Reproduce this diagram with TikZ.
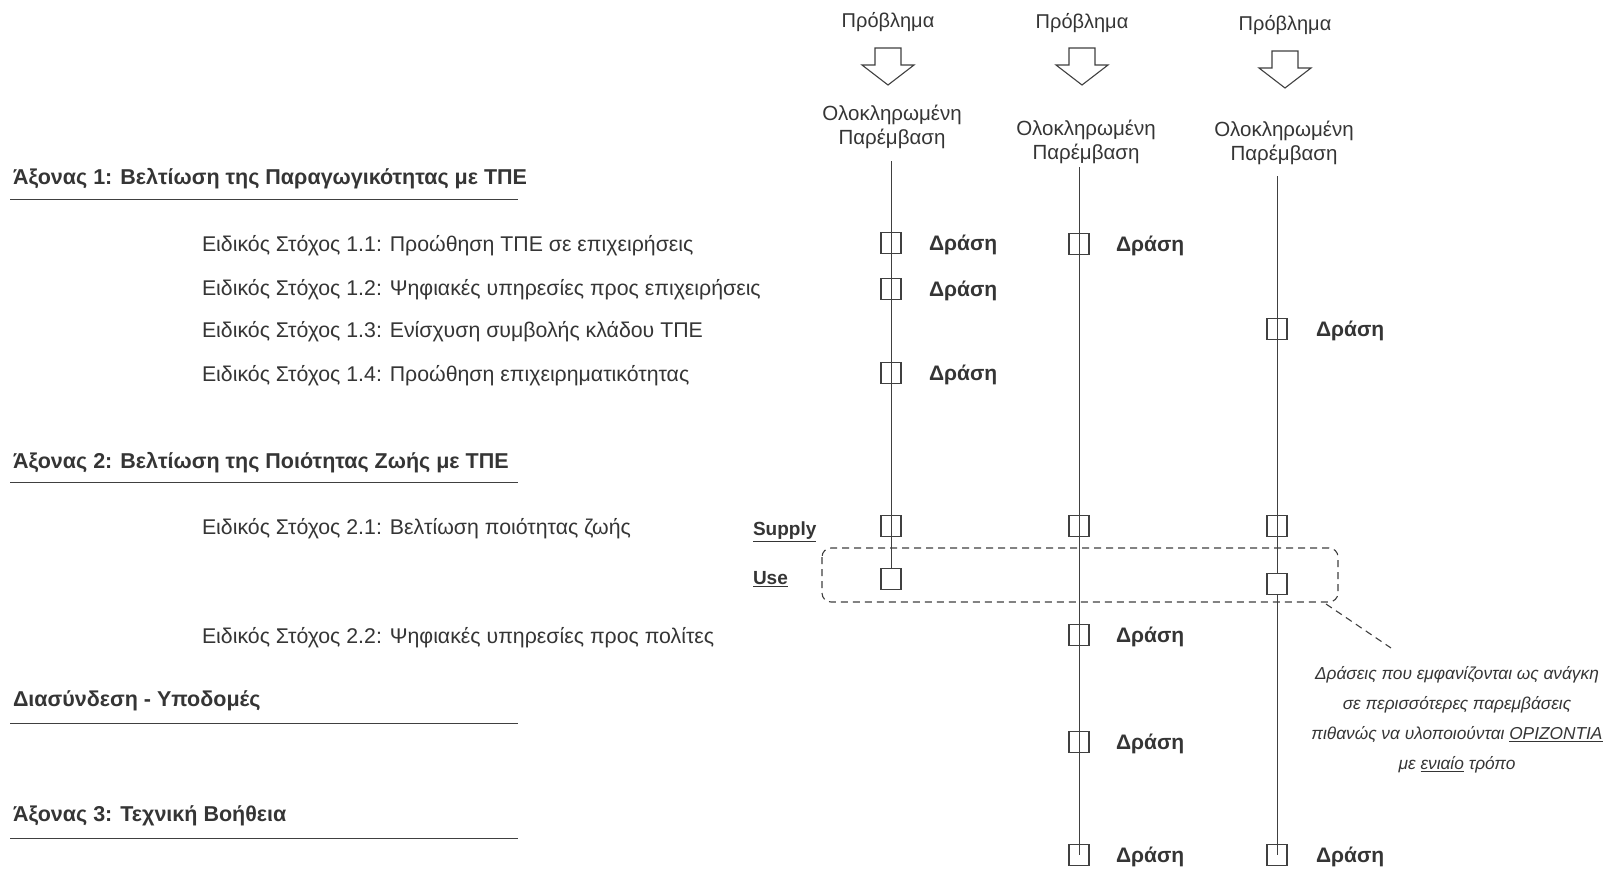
\documentclass[tikz,border=0pt]{standalone}
\usepackage{fontspec}
\setmainfont{Liberation Sans}
\definecolor{ink}{HTML}{353535}
\definecolor{rule}{HTML}{404040}
\begin{document}
\begin{tikzpicture}[x=1pt,y=-1pt,
  every node/.style={inner sep=0pt,outer sep=0pt,text=ink},
  head/.style={font=\fontsize{21.5}{25}\selectfont\bfseries, anchor=west, yshift=-2.5pt},
  goal/.style={font=\fontsize{21.3}{25}\selectfont, anchor=west, yshift=-2.5pt},
  act/.style={font=\fontsize{21}{25}\selectfont\bfseries, anchor=west, yshift=-2pt},
  tag/.style={font=\fontsize{19}{23}\selectfont\bfseries, anchor=west, yshift=-2pt},
  stage/.style={align=center, font=\fontsize{20}{24}\selectfont, yshift=-2pt},
  istage/.style={align=center, font=\fontsize{20.5}{24}\selectfont, yshift=-2pt},
  box/.style={draw=rule, line width=1.1pt, minimum width=20pt, minimum height=21pt},
  usebox/.style={box, fill=white},
  axis/.style={draw=rule, line width=1pt},
  hrule/.style={draw=rule, line width=1pt},
  blockarrow/.style={draw=rule, line width=1.1pt, line join=miter},
  group/.style={draw=rule, line width=1.1pt, dash pattern=on 7pt off 5pt, rounded corners=9pt},
  note/.style={font=\fontsize{17.3}{30}\selectfont\itshape, align=center}
]
\useasboundingbox[fill=white] (0,0) rectangle (1606,870);

% --- left column: axes and specific goals ---
\node[head] (ax1) at (13,176) {Άξονας 1: Βελτίωση της Παραγωγικότητας με ΤΠΕ};
\draw[hrule] (10,199) coordinate (r1a) -- (518,199) coordinate (r1b);
\node[goal] (g11) at (202,243) {Ειδικός Στόχος 1.1: Προώθηση ΤΠΕ σε επιχειρήσεις};
\node[goal] (g12) at (202,287) {Ειδικός Στόχος 1.2: Ψηφιακές υπηρεσίες προς επιχειρήσεις};
\node[goal] (g13) at (202,329) {Ειδικός Στόχος 1.3: Ενίσχυση συμβολής κλάδου ΤΠΕ};
\node[goal] (g14) at (202,373) {Ειδικός Στόχος 1.4: Προώθηση επιχειρηματικότητας};

\node[head] (ax2) at (13,460) {Άξονας 2: Βελτίωση της Ποιότητας Ζωής με ΤΠΕ};
\draw[hrule] (10,482) coordinate (r2a) -- (518,482) coordinate (r2b);
\node[goal] (g21) at (202,526) {Ειδικός Στόχος 2.1: Βελτίωση ποιότητας ζωής};
\node[goal] (g22) at (202,635) {Ειδικός Στόχος 2.2: Ψηφιακές υπηρεσίες προς πολίτες};

\node[head] (ax4) at (13,698) {Διασύνδεση - Υποδομές};
\draw[hrule] (10,723) coordinate (r3a) -- (518,723) coordinate (r3b);

\node[head] (ax3) at (13,813) {Άξονας 3: Τεχνική Βοήθεια};
\draw[hrule] (10,838) coordinate (r4a) -- (518,838) coordinate (r4b);

\node[tag] (supply) at (753,530) {\underline{Supply}};
\node[tag] (use) at (753,577) {\underline{Use}};

% --- problems, block arrows and integrated interventions ---
\node[stage] (p1) at (888,20) {Πρόβλημα};
\node[stage] (p2) at (1082,21) {Πρόβλημα};
\node[stage] (p3) at (1285,23) {Πρόβλημα};

\foreach \cx/\cy in {888/48, 1082/48, 1285/51}{
  \draw[blockarrow] (\cx-13,\cy) -- (\cx-13,\cy+17) -- (\cx-26,\cy+17) -- (\cx,\cy+37)
     -- (\cx+26,\cy+17) -- (\cx+13,\cy+17) -- (\cx+13,\cy) -- cycle;
}

\node[istage] (i1) at (892,125) {Ολοκληρωμένη\\Παρέμβαση};
\node[istage] (i2) at (1086,140) {Ολοκληρωμένη\\Παρέμβαση};
\node[istage] (i3) at (1284,141) {Ολοκληρωμένη\\Παρέμβαση};

\coordinate (t1) at (891,161);
\coordinate (t2) at (1079,167);
\coordinate (t3) at (1277,176);

% --- column 1 ---
\node[box] (a11) at (891,243) {};
\node[box] (a12) at (891,289) {};
\node[box] (a14) at (891,373) {};
\node[box] (s1) at (891,526) {};
\node[usebox] (u1) at (891,579) {};
\draw[axis] (t1) -- (u1.north);
\node[act] (d11) at (929,243) {Δράση};
\node[act] (d12) at (929,289) {Δράση};
\node[act] (d14) at (929,373) {Δράση};

% --- column 2 ---
\node[box] (b11) at (1079,244) {};
\node[box] (s2) at (1079,526) {};
\node[box] (b22) at (1079,635) {};
\node[box] (b31) at (1079,742) {};
\node[box] (b41) at (1079,855) {};
\draw[axis] (t2) -- (b41.center);
\node[act] (e11) at (1116,244) {Δράση};
\node[act] (e22) at (1116,635) {Δράση};
\node[act] (e31) at (1116,742) {Δράση};
\node[act] (e41) at (1116,855) {Δράση};

% --- column 3 ---
\node[box] (c13) at (1277,329) {};
\node[box] (s3) at (1277,526) {};
\node[usebox] (u3) at (1277,584) {};
\node[box] (c41) at (1277,855) {};
\draw[axis] (t3) -- (u3.north);
\draw[axis] (u3.south) -- (c41.center);
\node[act] (f13) at (1316,329) {Δράση};
\node[act] (f41) at (1316,855) {Δράση};

% --- horizontal grouping of shared actions ---
\draw[group] (822,548) rectangle (1338,602);
\coordinate (gc) at (1326,604);
\node[note] (nt) at (1457,720) {Δράσεις που εμφανίζονται ως ανάγκη\\
  σε περισσότερες παρεμβάσεις\\
  πιθανώς να υλοποιούνται \underline{ΟΡΙΖΟΝΤΙΑ}\\
  με \underline{ενιαίο} τρόπο};
\coordinate (ne) at (1391,648);
\draw[group] (gc) -- (ne);
\end{tikzpicture}
\end{document}
